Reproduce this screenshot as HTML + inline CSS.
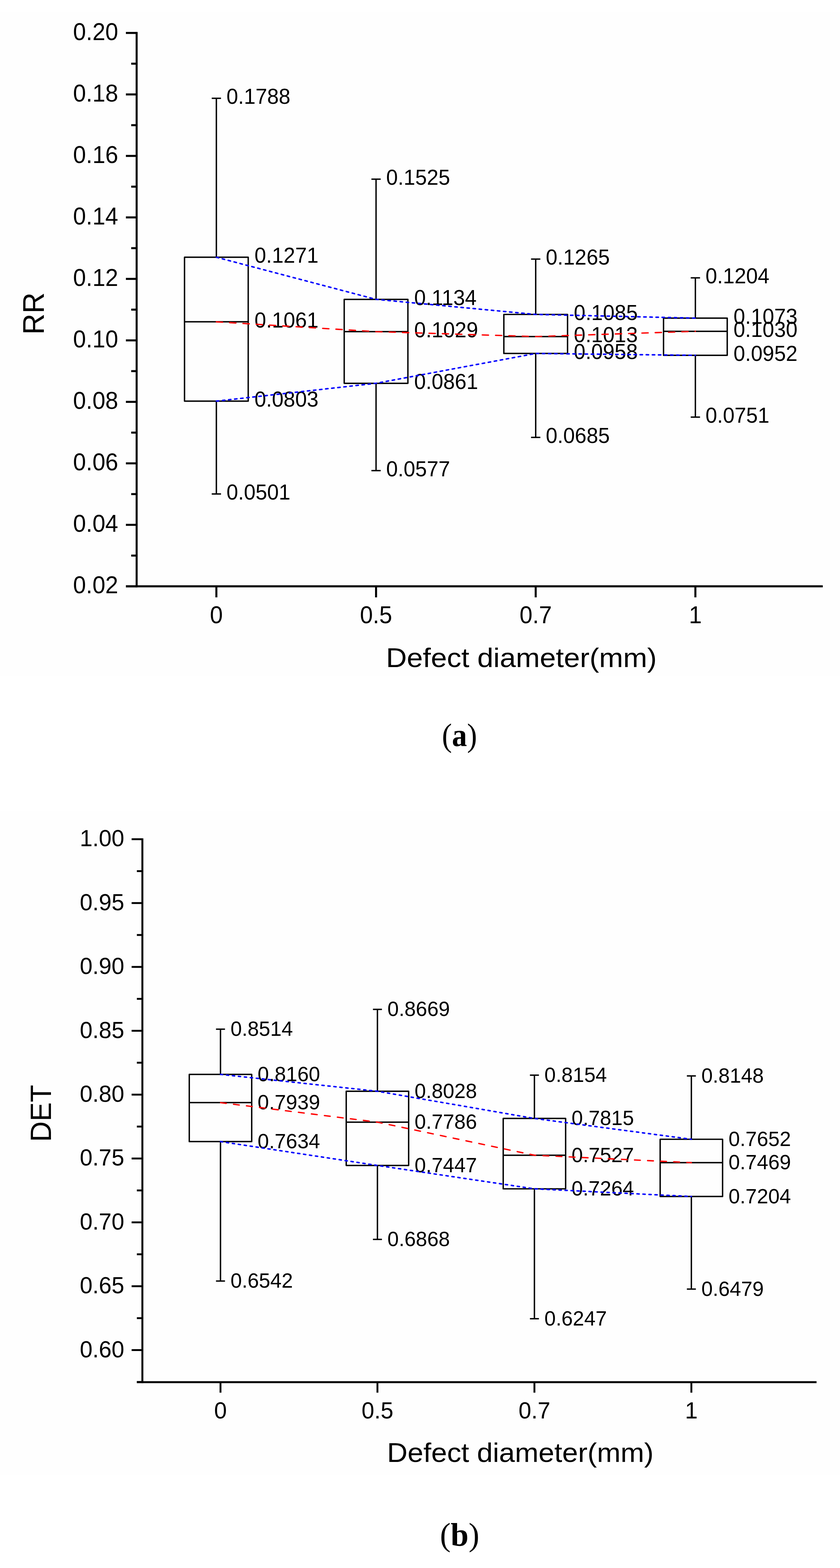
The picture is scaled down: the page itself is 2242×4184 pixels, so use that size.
<!DOCTYPE html>
<html><head><meta charset="utf-8"><title>Box plots of RR and DET versus defect diameter</title>
<style>
html,body{margin:0;padding:0;background:#ffffff;}
svg{display:block;}
text{font-family:"Liberation Sans", Arial, Helvetica, sans-serif;fill:#000;}
text.cap{font-family:"Liberation Serif", "Times New Roman", serif;}
</style></head>
<body>
<svg width="2242" height="4184" viewBox="0 0 2242 4184">
<rect width="2242" height="4184" fill="#ffffff"/>
<rect x="0" y="32" width="2242" height="1771" fill="#fefefe"/>
<rect x="0" y="2165" width="2242" height="1770" fill="#fefefe"/>
<line x1="364.7" y1="85.2" x2="364.7" y2="1567.2" stroke="#000" stroke-width="5.4"/>
<line x1="336" y1="1564.5" x2="2196" y2="1564.5" stroke="#000" stroke-width="5.4"/>
<line x1="336" y1="1564.53" x2="364.7" y2="1564.53" stroke="#000" stroke-width="5.4"/>
<line x1="336" y1="1400.46" x2="364.7" y2="1400.46" stroke="#000" stroke-width="5.4"/>
<line x1="336" y1="1236.39" x2="364.7" y2="1236.39" stroke="#000" stroke-width="5.4"/>
<line x1="336" y1="1072.32" x2="364.7" y2="1072.32" stroke="#000" stroke-width="5.4"/>
<line x1="336" y1="908.25" x2="364.7" y2="908.25" stroke="#000" stroke-width="5.4"/>
<line x1="336" y1="744.18" x2="364.7" y2="744.18" stroke="#000" stroke-width="5.4"/>
<line x1="336" y1="580.11" x2="364.7" y2="580.11" stroke="#000" stroke-width="5.4"/>
<line x1="336" y1="416.04" x2="364.7" y2="416.04" stroke="#000" stroke-width="5.4"/>
<line x1="336" y1="251.97" x2="364.7" y2="251.97" stroke="#000" stroke-width="5.4"/>
<line x1="336" y1="87.9" x2="364.7" y2="87.9" stroke="#000" stroke-width="5.4"/>
<line x1="350.2" y1="1482.5" x2="364.7" y2="1482.5" stroke="#000" stroke-width="5.4"/>
<line x1="350.2" y1="1318.43" x2="364.7" y2="1318.43" stroke="#000" stroke-width="5.4"/>
<line x1="350.2" y1="1154.36" x2="364.7" y2="1154.36" stroke="#000" stroke-width="5.4"/>
<line x1="350.2" y1="990.29" x2="364.7" y2="990.29" stroke="#000" stroke-width="5.4"/>
<line x1="350.2" y1="826.22" x2="364.7" y2="826.22" stroke="#000" stroke-width="5.4"/>
<line x1="350.2" y1="662.14" x2="364.7" y2="662.14" stroke="#000" stroke-width="5.4"/>
<line x1="350.2" y1="498.07" x2="364.7" y2="498.07" stroke="#000" stroke-width="5.4"/>
<line x1="350.2" y1="334" x2="364.7" y2="334" stroke="#000" stroke-width="5.4"/>
<line x1="350.2" y1="169.94" x2="364.7" y2="169.94" stroke="#000" stroke-width="5.4"/>
<line x1="577.5" y1="1564.5" x2="577.5" y2="1594" stroke="#000" stroke-width="5.4"/>
<line x1="1003.7" y1="1564.5" x2="1003.7" y2="1594" stroke="#000" stroke-width="5.4"/>
<line x1="1429.8" y1="1564.5" x2="1429.8" y2="1594" stroke="#000" stroke-width="5.4"/>
<line x1="1856" y1="1564.5" x2="1856" y2="1594" stroke="#000" stroke-width="5.4"/>
<text transform="translate(315.5,1583.33) scale(1,1.035)" text-anchor="end" font-size="61.9">0.02</text>
<text transform="translate(315.5,1419.26) scale(1,1.035)" text-anchor="end" font-size="61.9">0.04</text>
<text transform="translate(315.5,1255.19) scale(1,1.035)" text-anchor="end" font-size="61.9">0.06</text>
<text transform="translate(315.5,1091.12) scale(1,1.035)" text-anchor="end" font-size="61.9">0.08</text>
<text transform="translate(315.5,927.05) scale(1,1.035)" text-anchor="end" font-size="61.9">0.10</text>
<text transform="translate(315.5,762.98) scale(1,1.035)" text-anchor="end" font-size="61.9">0.12</text>
<text transform="translate(315.5,598.91) scale(1,1.035)" text-anchor="end" font-size="61.9">0.14</text>
<text transform="translate(315.5,434.84) scale(1,1.035)" text-anchor="end" font-size="61.9">0.16</text>
<text transform="translate(315.5,270.77) scale(1,1.035)" text-anchor="end" font-size="61.9">0.18</text>
<text transform="translate(315.5,106.7) scale(1,1.035)" text-anchor="end" font-size="61.9">0.20</text>
<text transform="translate(577.5,1662.5) scale(1,1.035)" text-anchor="middle" font-size="61.9">0</text>
<text transform="translate(1003.7,1662.5) scale(1,1.035)" text-anchor="middle" font-size="61.9">0.5</text>
<text transform="translate(1429.8,1662.5) scale(1,1.035)" text-anchor="middle" font-size="61.9">0.7</text>
<text transform="translate(1856,1662.5) scale(1,1.035)" text-anchor="middle" font-size="61.9">1</text>
<text x="1030.21" y="1780" font-size="73" textLength="722.7" lengthAdjust="spacingAndGlyphs">Defect diameter(mm)</text>
<text transform="translate(117,836.6) rotate(-90) scale(1,1.03)" text-anchor="middle" font-size="78">RR</text>
<line x1="577.5" y1="262.31" x2="577.5" y2="686.44" stroke="#000" stroke-width="3.7"/>
<line x1="577.5" y1="1070.36" x2="577.5" y2="1318.1" stroke="#000" stroke-width="3.7"/>
<line x1="565.1" y1="262.31" x2="589.9" y2="262.31" stroke="#000" stroke-width="3.7"/>
<line x1="565.1" y1="1318.1" x2="589.9" y2="1318.1" stroke="#000" stroke-width="3.7"/>
<rect x="492.5" y="686.44" width="170" height="383.92" fill="none" stroke="#000" stroke-width="3.7" stroke-linejoin="round"/>
<line x1="492.5" y1="858.71" x2="662.5" y2="858.71" stroke="#000" stroke-width="3.7"/>
<line x1="1003.7" y1="478.07" x2="1003.7" y2="798.82" stroke="#000" stroke-width="3.7"/>
<line x1="1003.7" y1="1022.78" x2="1003.7" y2="1255.76" stroke="#000" stroke-width="3.7"/>
<line x1="991.3" y1="478.07" x2="1016.1" y2="478.07" stroke="#000" stroke-width="3.7"/>
<line x1="991.3" y1="1255.76" x2="1016.1" y2="1255.76" stroke="#000" stroke-width="3.7"/>
<rect x="918.7" y="798.82" width="170" height="223.96" fill="none" stroke="#000" stroke-width="3.7" stroke-linejoin="round"/>
<line x1="918.7" y1="884.96" x2="1088.7" y2="884.96" stroke="#000" stroke-width="3.7"/>
<line x1="1429.8" y1="691.36" x2="1429.8" y2="839.02" stroke="#000" stroke-width="3.7"/>
<line x1="1429.8" y1="943.2" x2="1429.8" y2="1167.16" stroke="#000" stroke-width="3.7"/>
<line x1="1417.4" y1="691.36" x2="1442.2" y2="691.36" stroke="#000" stroke-width="3.7"/>
<line x1="1417.4" y1="1167.16" x2="1442.2" y2="1167.16" stroke="#000" stroke-width="3.7"/>
<rect x="1344.8" y="839.02" width="170" height="104.18" fill="none" stroke="#000" stroke-width="3.7" stroke-linejoin="round"/>
<line x1="1344.8" y1="898.09" x2="1514.8" y2="898.09" stroke="#000" stroke-width="3.7"/>
<line x1="1856" y1="741.4" x2="1856" y2="848.86" stroke="#000" stroke-width="3.7"/>
<line x1="1856" y1="948.13" x2="1856" y2="1113.02" stroke="#000" stroke-width="3.7"/>
<line x1="1843.6" y1="741.4" x2="1868.4" y2="741.4" stroke="#000" stroke-width="3.7"/>
<line x1="1843.6" y1="1113.02" x2="1868.4" y2="1113.02" stroke="#000" stroke-width="3.7"/>
<rect x="1771" y="848.86" width="170" height="99.26" fill="none" stroke="#000" stroke-width="3.7" stroke-linejoin="round"/>
<line x1="1771" y1="884.14" x2="1941" y2="884.14" stroke="#000" stroke-width="3.7"/>
<text transform="translate(604.5,277.11) scale(1,1.026)" font-size="55.8">0.1788</text>
<text transform="translate(604.5,1332.9) scale(1,1.026)" font-size="55.8">0.0501</text>
<text transform="translate(679.3,701.24) scale(1,1.026)" font-size="55.8">0.1271</text>
<text transform="translate(679.3,873.51) scale(1,1.026)" font-size="55.8">0.1061</text>
<text transform="translate(679.3,1085.16) scale(1,1.026)" font-size="55.8">0.0803</text>
<text transform="translate(1030.7,492.87) scale(1,1.026)" font-size="55.8">0.1525</text>
<text transform="translate(1030.7,1270.56) scale(1,1.026)" font-size="55.8">0.0577</text>
<text transform="translate(1105.5,813.62) scale(1,1.026)" font-size="55.8">0.1134</text>
<text transform="translate(1105.5,899.76) scale(1,1.026)" font-size="55.8">0.1029</text>
<text transform="translate(1105.5,1037.58) scale(1,1.026)" font-size="55.8">0.0861</text>
<text transform="translate(1456.8,706.16) scale(1,1.026)" font-size="55.8">0.1265</text>
<text transform="translate(1456.8,1181.96) scale(1,1.026)" font-size="55.8">0.0685</text>
<text transform="translate(1531.6,853.82) scale(1,1.026)" font-size="55.8">0.1085</text>
<text transform="translate(1531.6,912.89) scale(1,1.026)" font-size="55.8">0.1013</text>
<text transform="translate(1531.6,958) scale(1,1.026)" font-size="55.8">0.0958</text>
<text transform="translate(1883,756.2) scale(1,1.026)" font-size="55.8">0.1204</text>
<text transform="translate(1883,1127.82) scale(1,1.026)" font-size="55.8">0.0751</text>
<text transform="translate(1957.8,863.66) scale(1,1.026)" font-size="55.8">0.1073</text>
<text transform="translate(1957.8,898.94) scale(1,1.026)" font-size="55.8">0.1030</text>
<text transform="translate(1957.8,962.93) scale(1,1.026)" font-size="55.8">0.0952</text>
<polyline points="577.5,686.44 1003.7,798.82 1429.8,839.02 1856,848.86" fill="none" stroke="#0000ff" stroke-width="4.0" stroke-dasharray="6.4 9.9" stroke-linecap="round"/>
<polyline points="577.5,1070.36 1003.7,1022.78 1429.8,943.2 1856,948.13" fill="none" stroke="#0000ff" stroke-width="4.0" stroke-dasharray="6.4 9.9" stroke-linecap="round"/>
<polyline points="577.5,858.71 1003.7,884.96 1429.8,898.09 1856,884.14" fill="none" stroke="#ff0000" stroke-width="3.6" stroke-dasharray="16.7 18.83" stroke-linecap="round"/>
<text class="cap" x="1179.5" y="1991" font-size="86" textLength="93.8" lengthAdjust="spacingAndGlyphs">(<tspan font-weight="bold">a</tspan>)</text>
<line x1="380" y1="2236.9" x2="380" y2="3690.8" stroke="#000" stroke-width="5.2"/>
<line x1="365.3" y1="3688.2" x2="2179.4" y2="3688.2" stroke="#000" stroke-width="5.2"/>
<line x1="351.3" y1="3602.5" x2="380" y2="3602.5" stroke="#000" stroke-width="5.0"/>
<line x1="351.3" y1="3432.1" x2="380" y2="3432.1" stroke="#000" stroke-width="5.0"/>
<line x1="351.3" y1="3261.7" x2="380" y2="3261.7" stroke="#000" stroke-width="5.0"/>
<line x1="351.3" y1="3091.3" x2="380" y2="3091.3" stroke="#000" stroke-width="5.0"/>
<line x1="351.3" y1="2920.9" x2="380" y2="2920.9" stroke="#000" stroke-width="5.0"/>
<line x1="351.3" y1="2750.5" x2="380" y2="2750.5" stroke="#000" stroke-width="5.0"/>
<line x1="351.3" y1="2580.1" x2="380" y2="2580.1" stroke="#000" stroke-width="5.0"/>
<line x1="351.3" y1="2409.7" x2="380" y2="2409.7" stroke="#000" stroke-width="5.0"/>
<line x1="351.3" y1="2239.3" x2="380" y2="2239.3" stroke="#000" stroke-width="5.0"/>
<line x1="365.3" y1="3687.7" x2="380" y2="3687.7" stroke="#000" stroke-width="5.0"/>
<line x1="365.3" y1="3517.3" x2="380" y2="3517.3" stroke="#000" stroke-width="5.0"/>
<line x1="365.3" y1="3346.9" x2="380" y2="3346.9" stroke="#000" stroke-width="5.0"/>
<line x1="365.3" y1="3176.5" x2="380" y2="3176.5" stroke="#000" stroke-width="5.0"/>
<line x1="365.3" y1="3006.1" x2="380" y2="3006.1" stroke="#000" stroke-width="5.0"/>
<line x1="365.3" y1="2835.7" x2="380" y2="2835.7" stroke="#000" stroke-width="5.0"/>
<line x1="365.3" y1="2665.3" x2="380" y2="2665.3" stroke="#000" stroke-width="5.0"/>
<line x1="365.3" y1="2494.9" x2="380" y2="2494.9" stroke="#000" stroke-width="5.0"/>
<line x1="365.3" y1="2324.5" x2="380" y2="2324.5" stroke="#000" stroke-width="5.0"/>
<line x1="588.5" y1="3688.2" x2="588.5" y2="3716.2" stroke="#000" stroke-width="5.0"/>
<line x1="1007.4" y1="3688.2" x2="1007.4" y2="3716.2" stroke="#000" stroke-width="5.0"/>
<line x1="1426.4" y1="3688.2" x2="1426.4" y2="3716.2" stroke="#000" stroke-width="5.0"/>
<line x1="1845.3" y1="3688.2" x2="1845.3" y2="3716.2" stroke="#000" stroke-width="5.0"/>
<text transform="translate(331.6,3621.5) scale(1,1.036)" text-anchor="end" font-size="61.0">0.60</text>
<text transform="translate(331.6,3451.1) scale(1,1.036)" text-anchor="end" font-size="61.0">0.65</text>
<text transform="translate(331.6,3280.7) scale(1,1.036)" text-anchor="end" font-size="61.0">0.70</text>
<text transform="translate(331.6,3110.3) scale(1,1.036)" text-anchor="end" font-size="61.0">0.75</text>
<text transform="translate(331.6,2939.9) scale(1,1.036)" text-anchor="end" font-size="61.0">0.80</text>
<text transform="translate(331.6,2769.5) scale(1,1.036)" text-anchor="end" font-size="61.0">0.85</text>
<text transform="translate(331.6,2599.1) scale(1,1.036)" text-anchor="end" font-size="61.0">0.90</text>
<text transform="translate(331.6,2428.7) scale(1,1.036)" text-anchor="end" font-size="61.0">0.95</text>
<text transform="translate(331.6,2258.3) scale(1,1.036)" text-anchor="end" font-size="61.0">1.00</text>
<text transform="translate(588.5,3784.5) scale(1,1.036)" text-anchor="middle" font-size="61.0">0</text>
<text transform="translate(1007.4,3784.5) scale(1,1.036)" text-anchor="middle" font-size="61.0">0.5</text>
<text transform="translate(1426.4,3784.5) scale(1,1.036)" text-anchor="middle" font-size="61.0">0.7</text>
<text transform="translate(1845.3,3784.5) scale(1,1.036)" text-anchor="middle" font-size="61.0">1</text>
<text x="1033.1" y="3901" font-size="73" textLength="711.5" lengthAdjust="spacingAndGlyphs">Defect diameter(mm)</text>
<text transform="translate(136.1,2970.9) rotate(-90) scale(1,1.03)" text-anchor="middle" font-size="76">DET</text>
<line x1="588.5" y1="2746.23" x2="588.5" y2="2866.87" stroke="#000" stroke-width="3.7"/>
<line x1="588.5" y1="3046.13" x2="588.5" y2="3418.29" stroke="#000" stroke-width="3.7"/>
<line x1="576.5" y1="2746.23" x2="600.5" y2="2746.23" stroke="#000" stroke-width="3.7"/>
<line x1="576.5" y1="3418.29" x2="600.5" y2="3418.29" stroke="#000" stroke-width="3.7"/>
<rect x="505.2" y="2866.87" width="166.6" height="179.26" fill="none" stroke="#000" stroke-width="3.7" stroke-linejoin="round"/>
<line x1="505.2" y1="2942.19" x2="671.8" y2="2942.19" stroke="#000" stroke-width="3.7"/>
<line x1="1007.4" y1="2693.4" x2="1007.4" y2="2911.86" stroke="#000" stroke-width="3.7"/>
<line x1="1007.4" y1="3109.86" x2="1007.4" y2="3307.19" stroke="#000" stroke-width="3.7"/>
<line x1="995.4" y1="2693.4" x2="1019.4" y2="2693.4" stroke="#000" stroke-width="3.7"/>
<line x1="995.4" y1="3307.19" x2="1019.4" y2="3307.19" stroke="#000" stroke-width="3.7"/>
<rect x="924.1" y="2911.86" width="166.6" height="198" fill="none" stroke="#000" stroke-width="3.7" stroke-linejoin="round"/>
<line x1="924.1" y1="2994.33" x2="1090.7" y2="2994.33" stroke="#000" stroke-width="3.7"/>
<line x1="1426.4" y1="2868.92" x2="1426.4" y2="2984.45" stroke="#000" stroke-width="3.7"/>
<line x1="1426.4" y1="3172.23" x2="1426.4" y2="3518.82" stroke="#000" stroke-width="3.7"/>
<line x1="1414.4" y1="2868.92" x2="1438.4" y2="2868.92" stroke="#000" stroke-width="3.7"/>
<line x1="1414.4" y1="3518.82" x2="1438.4" y2="3518.82" stroke="#000" stroke-width="3.7"/>
<rect x="1343.1" y="2984.45" width="166.6" height="187.78" fill="none" stroke="#000" stroke-width="3.7" stroke-linejoin="round"/>
<line x1="1343.1" y1="3082.6" x2="1509.7" y2="3082.6" stroke="#000" stroke-width="3.7"/>
<line x1="1845.3" y1="2870.96" x2="1845.3" y2="3040" stroke="#000" stroke-width="3.7"/>
<line x1="1845.3" y1="3192.68" x2="1845.3" y2="3439.76" stroke="#000" stroke-width="3.7"/>
<line x1="1833.3" y1="2870.96" x2="1857.3" y2="2870.96" stroke="#000" stroke-width="3.7"/>
<line x1="1833.3" y1="3439.76" x2="1857.3" y2="3439.76" stroke="#000" stroke-width="3.7"/>
<rect x="1762" y="3040" width="166.6" height="152.68" fill="none" stroke="#000" stroke-width="3.7" stroke-linejoin="round"/>
<line x1="1762" y1="3102.36" x2="1928.6" y2="3102.36" stroke="#000" stroke-width="3.7"/>
<text transform="translate(615.2,2764.13) scale(1,1.025)" font-size="54.5">0.8514</text>
<text transform="translate(615.2,3436.19) scale(1,1.025)" font-size="54.5">0.6542</text>
<text transform="translate(687.6,2884.77) scale(1,1.025)" font-size="54.5">0.8160</text>
<text transform="translate(687.6,2960.09) scale(1,1.025)" font-size="54.5">0.7939</text>
<text transform="translate(687.6,3064.03) scale(1,1.025)" font-size="54.5">0.7634</text>
<text transform="translate(1034.1,2711.3) scale(1,1.025)" font-size="54.5">0.8669</text>
<text transform="translate(1034.1,3325.09) scale(1,1.025)" font-size="54.5">0.6868</text>
<text transform="translate(1106.5,2929.76) scale(1,1.025)" font-size="54.5">0.8028</text>
<text transform="translate(1106.5,3012.23) scale(1,1.025)" font-size="54.5">0.7786</text>
<text transform="translate(1106.5,3127.76) scale(1,1.025)" font-size="54.5">0.7447</text>
<text transform="translate(1453.1,2886.82) scale(1,1.025)" font-size="54.5">0.8154</text>
<text transform="translate(1453.1,3536.72) scale(1,1.025)" font-size="54.5">0.6247</text>
<text transform="translate(1525.5,3002.35) scale(1,1.025)" font-size="54.5">0.7815</text>
<text transform="translate(1525.5,3100.5) scale(1,1.025)" font-size="54.5">0.7527</text>
<text transform="translate(1525.5,3190.13) scale(1,1.025)" font-size="54.5">0.7264</text>
<text transform="translate(1872,2888.86) scale(1,1.025)" font-size="54.5">0.8148</text>
<text transform="translate(1872,3457.66) scale(1,1.025)" font-size="54.5">0.6479</text>
<text transform="translate(1944.4,3057.9) scale(1,1.025)" font-size="54.5">0.7652</text>
<text transform="translate(1944.4,3120.26) scale(1,1.025)" font-size="54.5">0.7469</text>
<text transform="translate(1944.4,3210.58) scale(1,1.025)" font-size="54.5">0.7204</text>
<polyline points="588.5,2866.87 1007.4,2911.86 1426.4,2984.45 1845.3,3040" fill="none" stroke="#0000ff" stroke-width="4.0" stroke-dasharray="5.85 10.17" stroke-linecap="round"/>
<polyline points="588.5,3046.13 1007.4,3109.86 1426.4,3172.23 1845.3,3192.68" fill="none" stroke="#0000ff" stroke-width="4.0" stroke-dasharray="5.85 10.17" stroke-linecap="round"/>
<polyline points="588.5,2942.19 1007.4,2994.33 1426.4,3082.6 1845.3,3102.36" fill="none" stroke="#ff0000" stroke-width="3.6" stroke-dasharray="15.5 19.43" stroke-linecap="round"/>
<text class="cap" x="1174.2" y="4124.4" font-size="86">(<tspan font-weight="bold">b</tspan>)</text>
</svg>
</body></html>
